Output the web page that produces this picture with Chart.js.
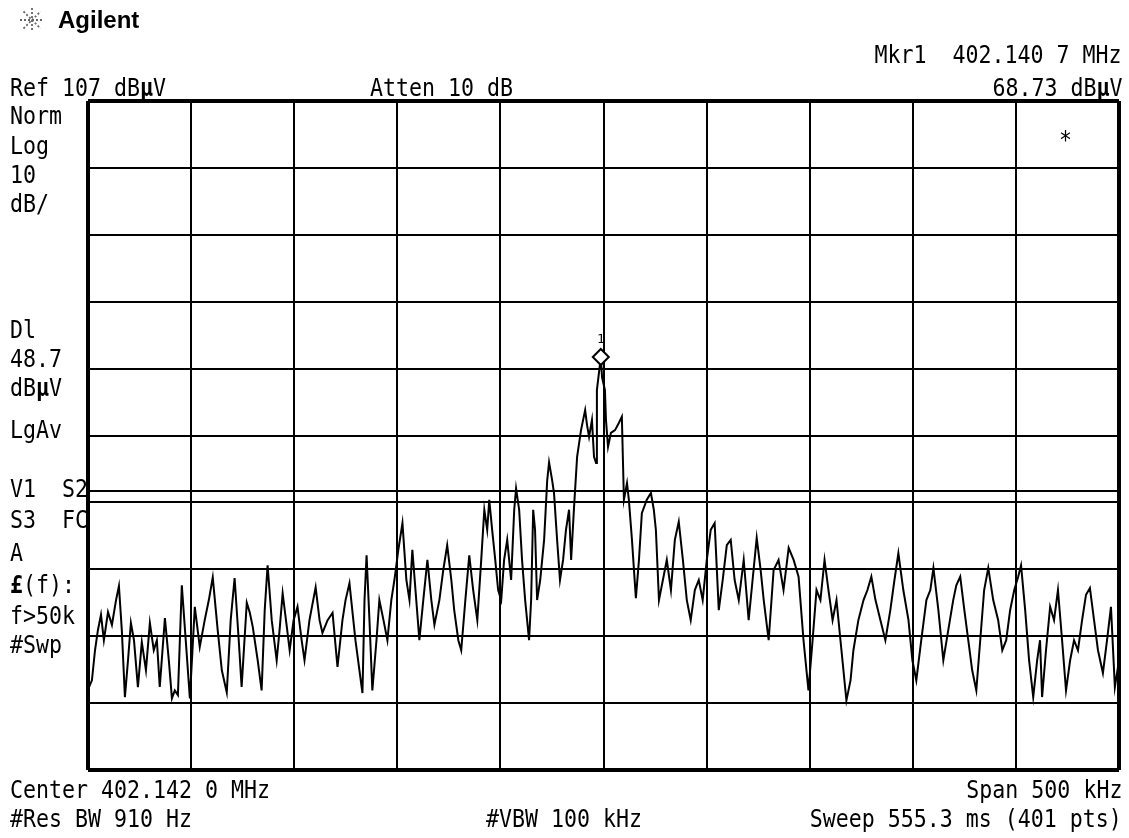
<!DOCTYPE html>
<html>
<head>
<meta charset="utf-8">
<title>Agilent spectrum - Mkr1 402.1407 MHz</title>
<script src="https://cdn.jsdelivr.net/npm/chart.js@4.4.1/dist/chart.umd.min.js"></script>
<style>
  html, body { margin: 0; padding: 0; background: #fff; }
  #wrap { position: relative; width: 1129px; height: 838px; overflow: hidden; }
  #trace { position: absolute; left: 0; top: 0; }
  .t {
    position: absolute;
    font-family: 'DejaVu Sans Mono', 'Liberation Mono', monospace;
    font-size: 24px;
    line-height: 24px;
    white-space: pre;
    color: #000;
    transform: scaleX(0.9);
    transform-origin: left center;
  }
  .t.r { transform-origin: right center; }
  .t b { font-weight: bold; }
  .logo {
    position: absolute;
    font-family: 'Liberation Sans', Arial, sans-serif;
    font-weight: bold;
    font-size: 24px;
    line-height: 24px;
    color: #000;
  }
</style>
</head>
<body>
<div id="wrap">
  <canvas id="trace" width="1129" height="838"></canvas>

  <svg style="position:absolute;left:19px;top:7px" width="26" height="26" viewBox="-13 -13 26 26">
    <g stroke="#666" stroke-width="1.8" stroke-dasharray="2 2">
      <line x1="-12" y1="0" x2="12" y2="0"/>
      <line x1="0" y1="-12" x2="0" y2="12"/>
      <line x1="-8.5" y1="-8.5" x2="8.5" y2="8.5"/>
      <line x1="-8.5" y1="8.5" x2="8.5" y2="-8.5"/>
    </g>
  </svg>
  <div class="logo" style="left:58px;top:8px">Agilent</div>

  <div class="t r" style="right:7px;top:43px">Mkr1  402.140 7 MHz</div>
  <div class="t" style="left:10px;top:76px">Ref 107 dB<b>µ</b>V</div>
  <div class="t" style="left:370px;top:76px">Atten 10 dB</div>
  <div class="t r" style="right:7px;top:76px">68.73 dB<b>µ</b>V</div>

  <div class="t" style="left:10px;top:104px">Norm</div>
  <div class="t" style="left:10px;top:134px">Log</div>
  <div class="t" style="left:10px;top:163px">10</div>
  <div class="t" style="left:10px;top:192px">dB/</div>
  <div class="t" style="left:10px;top:318px">Dl</div>
  <div class="t" style="left:10px;top:347px">48.7</div>
  <div class="t" style="left:10px;top:376px">dB<b>µ</b>V</div>
  <div class="t" style="left:10px;top:418px">LgAv</div>
  <div class="t" style="left:10px;top:477px">V1  S2</div>
  <div class="t" style="left:10px;top:508px">S3  FC</div>
  <div class="t" style="left:10px;top:541px">A</div>
  <div class="t" style="left:10px;top:573px"><b>£</b>(f):</div>
  <div class="t" style="left:10px;top:604px">f&gt;50k</div>
  <div class="t" style="left:10px;top:633px">#Swp</div>

  <div class="t" style="left:1059px;top:128px">*</div>

  <div class="t" style="left:10px;top:778px">Center 402.142 0 MHz</div>
  <div class="t r" style="right:7px;top:778px">Span 500 kHz</div>
  <div class="t" style="left:10px;top:807px">#Res BW 910 Hz</div>
  <div class="t" style="left:486px;top:807px">#VBW 100 kHz</div>
  <div class="t r" style="right:7px;top:807px">Sweep 555.3 ms (401 pts)</div>
</div>

<script>
// trace: offset from center 402.1420 MHz (kHz) vs level (dBuV)
const freqOffsetKHz = [
  -249.5, -248.1, -246.6, -245.2, -243.7, -242.3, -240.3, -238.4, -236.4, -235.0,
  -233.6, -232.1, -230.6, -229.2, -227.7, -225.8, -223.9, -221.9, -220.0, -218.1,
  -216.6, -215.2, -212.7, -210.8, -209.3, -207.9, -206.4, -204.5, -202.6, -200.6,
  -198.2, -195.8, -193.4, -191.4, -189.5, -187.1, -185.1, -182.7, -180.8, -178.9,
  -176.9, -175.5, -173.0, -171.6, -170.1, -167.7, -165.8, -164.3, -162.9, -160.9,
  -158.5, -157.1, -155.6, -153.7, -152.2, -150.3, -148.4, -146.4, -145.0, -142.6,
  -139.6, -137.7, -136.3, -133.8, -131.4, -129.0, -126.6, -125.1, -123.2, -120.3,
  -116.9, -115.9, -114.9, -113.5, -112.1, -110.1, -108.7, -106.7, -104.8, -102.9,
  -101.4, -99.5, -97.5, -95.6, -94.1, -92.7, -90.8, -89.3, -87.4, -85.4,
  -83.5, -82.0, -79.6, -77.7, -75.8, -73.8, -72.4, -70.4, -69.0, -67.0,
  -65.1, -63.2, -61.2, -59.3, -57.8, -56.4, -55.4, -54.0, -52.5, -51.1,
  -49.6, -48.2, -46.7, -44.8, -43.3, -42.4, -40.9, -39.5, -38.0, -36.1,
  -35.1, -34.1, -33.2, -32.2, -30.7, -28.8, -27.3, -26.4, -24.9, -24.0,
  -22.5, -21.1, -19.6, -18.2, -16.7, -15.7, -14.3, -12.8, -10.9, -8.9,
  -8.0, -7.0, -5.6, -4.6, -3.6, -3.2, -1.3, -0.7, 0.7, 1.2,
  2.2, 3.6, 5.6, 7.5, 8.9, 9.9, 11.4, 12.3, 13.8, 15.7,
  17.2, 18.6, 21.0, 23.0, 24.4, 25.4, 26.9, 28.8, 30.7, 32.7,
  34.6, 36.5, 38.5, 40.4, 42.3, 44.3, 46.2, 48.1, 50.1, 52.0,
  53.9, 55.9, 57.8, 59.8, 61.7, 63.6, 65.6, 68.0, 70.4, 72.3,
  74.3, 76.2, 77.7, 80.1, 82.5, 84.9, 87.3, 89.8, 92.2, 94.6,
  97.0, 99.4, 101.4, 103.3, 105.2, 107.2, 109.1, 111.1, 113.0, 115.4,
  117.8, 119.8, 121.2, 123.6, 126.1, 128.0, 129.9, 131.9, 134.3, 136.7,
  139.1, 141.1, 143.0, 145.4, 147.9, 149.8, 151.7, 154.1, 156.6, 158.5,
  160.0, 162.4, 164.8, 167.2, 169.6, 171.1, 173.0, 175.0, 176.9, 178.8,
  180.8, 182.7, 184.6, 186.6, 189.0, 191.4, 193.4, 195.3, 197.2, 199.2,
  201.1, 202.5, 204.5, 206.4, 208.4, 210.3, 211.7, 212.7, 214.6, 216.6,
  218.5, 220.4, 222.4, 224.3, 226.3, 228.2, 230.1, 232.1, 234.0, 235.9,
  237.9, 239.8, 242.2, 244.2, 246.1, 248.0, 250.0
];
const levelDbuV = [
  19.4, 20.4, 24.9, 27.9, 30.2, 26.4, 30.6, 28.7, 32.4, 34.5,
  27.9, 17.9, 23.4, 29.0, 26.4, 19.4, 26.1, 21.9, 29.0, 24.9,
  26.4, 19.4, 29.7, 23.4, 17.7, 18.9, 18.2, 34.6, 26.4, 17.7,
  31.4, 25.4, 29.4, 32.4, 35.8, 27.9, 21.9, 18.6, 29.4, 35.7,
  26.4, 19.4, 32.0, 30.6, 28.4, 23.4, 18.9, 30.9, 37.6, 29.4,
  23.4, 27.9, 33.4, 28.7, 24.9, 29.4, 31.4, 26.4, 23.4, 29.4,
  34.3, 29.4, 27.5, 29.4, 30.5, 22.4, 29.4, 32.4, 34.9, 26.4,
  18.5, 32.4, 39.1, 29.4, 18.9, 26.4, 32.4, 29.4, 26.4, 32.4,
  35.4, 39.9, 43.9, 35.4, 32.4, 39.9, 32.4, 26.4, 32.4, 38.4,
  32.4, 28.7, 32.4, 36.9, 40.6, 35.4, 30.9, 26.4, 24.9, 32.4,
  39.1, 33.9, 29.4, 38.4, 45.9, 42.9, 47.4, 42.9, 38.4, 33.9,
  32.4, 38.4, 41.4, 35.4, 45.9, 49.1, 45.9, 38.4, 32.4, 26.4,
  32.4, 45.9, 42.9, 32.4, 35.4, 41.4, 50.3, 53.0, 50.3, 48.4,
  41.4, 35.4, 38.4, 42.9, 45.9, 38.4, 46.2, 53.8, 57.8, 60.8,
  58.6, 56.8, 59.3, 53.8, 52.9, 63.8, 68.73, 65.7, 63.8, 59.3,
  55.3, 57.4, 57.8, 58.9, 59.8, 47.4, 49.9, 47.4, 41.4, 32.7,
  38.4, 45.4, 47.4, 48.4, 45.9, 42.9, 32.4, 35.4, 38.4, 33.9,
  41.4, 44.1, 38.4, 32.4, 29.4, 33.9, 35.4, 32.4, 38.4, 42.9,
  43.9, 30.9, 35.4, 40.6, 41.4, 35.4, 32.4, 38.4, 29.4, 35.4,
  41.7, 36.9, 32.4, 26.4, 36.9, 38.4, 33.9, 40.2, 38.4, 35.9,
  26.4, 18.9, 26.4, 33.9, 32.4, 38.4, 33.9, 29.4, 32.4, 24.9,
  17.4, 20.4, 24.9, 29.4, 32.4, 33.9, 35.9, 32.4, 29.4, 26.4,
  30.9, 35.4, 39.4, 33.9, 29.4, 23.4, 20.4, 26.4, 32.4, 33.9,
  37.2, 30.9, 23.4, 27.9, 32.4, 34.6, 35.9, 30.9, 26.4, 21.9,
  18.9, 26.4, 33.9, 37.2, 32.4, 29.4, 24.9, 26.4, 30.9, 33.9,
  35.9, 37.6, 30.9, 23.4, 17.9, 23.4, 26.4, 17.9, 24.9, 31.4,
  29.4, 33.9, 26.4, 18.9, 23.4, 26.4, 24.9, 29.4, 33.2, 34.2,
  29.4, 24.9, 21.5, 26.4, 31.4, 19.4, 23.4
];

// screen settings: ref 107 dBuV, 10 dB/div, span 500 kHz
const yGridDbuV = [7, 17, 27, 37, 47, 57, 67, 77, 87, 97, 107];
const xGridKHz = [-250, -200, -150, -100, -50, 0, 50, 100, 150, 200, 250];
const displayLineDbuV = 48.7;
const markerFreqKHz = -1.3;   // 402.140 7 MHz
const markerLevelDbuV = 68.73;

const tracePoints = freqOffsetKHz.map((f, i) => ({ x: f, y: levelDbuV[i] }));

// small "1" above the marker diamond
const markerLabel = {
    id: 'markerLabel',
    afterDatasetsDraw(chart) {
        const c = chart.ctx;
        const px = chart.scales.x.getPixelForValue(markerFreqKHz);
        const py = chart.scales.y.getPixelForValue(markerLevelDbuV);
        c.save();
        c.fillStyle = '#000';
        c.font = '13px "DejaVu Sans Mono"';
        c.textAlign = 'center';
        c.textBaseline = 'bottom';
        c.fillText('1', px, py - 11);
        c.restore();
    }
};

function edgeWidth(values) {
    return ctx => (ctx.tick && (ctx.tick.value === values[0] || ctx.tick.value === values[values.length - 1])) ? 4 : 2;
}

new Chart(document.getElementById('trace').getContext('2d'), {
    type: 'line',
    data: {
        datasets: [
            {
                label: 'Mkr1',
                data: [{ x: markerFreqKHz, y: markerLevelDbuV }],
                showLine: false,
                pointStyle: 'rectRot',
                pointRadius: 8,
                pointBackgroundColor: '#fff',
                pointBorderColor: '#000',
                pointBorderWidth: 2,
                order: 0
            },
            {
                label: 'Trace',
                data: tracePoints,
                borderColor: '#000',
                borderWidth: 2,
                pointRadius: 0,
                tension: 0,
                order: 1
            },
            {
                label: 'Display line',
                data: [{ x: xGridKHz[0], y: displayLineDbuV }, { x: xGridKHz[xGridKHz.length - 1], y: displayLineDbuV }],
                borderColor: '#000',
                borderWidth: 2,
                pointRadius: 0,
                order: 2
            }
        ]
    },
    options: {
        responsive: false,
        animation: false,
        devicePixelRatio: 1,
        layout: { padding: { left: 88, right: 8, top: 101, bottom: 68 } },
        scales: {
            x: {
                type: 'linear',
                min: xGridKHz[0],
                max: xGridKHz[xGridKHz.length - 1],
                afterBuildTicks: s => { s.ticks = xGridKHz.map(v => ({ value: v })); },
                ticks: { display: false },
                grid: { color: '#000', lineWidth: edgeWidth(xGridKHz), drawTicks: false },
                border: { display: false }
            },
            y: {
                type: 'linear',
                min: yGridDbuV[0],
                max: yGridDbuV[yGridDbuV.length - 1],
                afterBuildTicks: s => { s.ticks = yGridDbuV.map(v => ({ value: v })); },
                ticks: { display: false },
                grid: { color: '#000', lineWidth: edgeWidth(yGridDbuV), drawTicks: false },
                border: { display: false }
            }
        },
        plugins: {
            legend: { display: false },
            tooltip: { enabled: false }
        }
    },
    plugins: [markerLabel]
});
</script>
</body>
</html>
